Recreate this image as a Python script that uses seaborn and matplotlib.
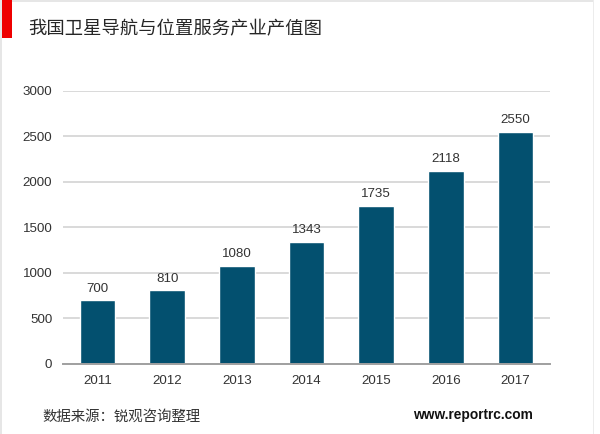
import matplotlib
matplotlib.use('Agg')
import matplotlib.pyplot as plt
from matplotlib.patches import Rectangle
import pandas as pd
import seaborn as sns

# Chart data
years = ['2011', '2012', '2013', '2014', '2015', '2016', '2017']
values = [700, 810, 1080, 1343, 1735, 2118, 2550]
y_ticks = [0, 500, 1000, 1500, 2000, 2500, 3000]

title = '我国卫星导航与位置服务产业产值图'
source = '数据来源：锐观咨询整理'
site = 'www.reportrc.com'

W, H = 600, 434

sns.set_theme(style='white')
plt.rcParams['font.family'] = ['Liberation Sans', 'Noto Sans CJK SC', 'DejaVu Sans']

df = pd.DataFrame({'year': years, 'value': values})

fig = plt.figure(figsize=(W / 100, H / 100), dpi=100)
ax = fig.add_axes([62.7 / W, 1 - 364 / H, (550.3 - 62.7) / W, (364 - 90.7) / H])

sns.barplot(data=df, x='year', y='value', color='#03506F', saturation=1,
            width=0.51, ax=ax, zorder=3)

ax.set_ylim(0, 3000)
ax.set_yticks(y_ticks)
ax.set_xlabel('')
ax.set_ylabel('')
ax.grid(axis='y', color='#D9D9D9', lw=1.4, zorder=0)
ax.set_axisbelow(True)
sns.despine(ax=ax, left=True)
ax.spines['bottom'].set_color('#A0A0A0')
ax.spines['bottom'].set_linewidth(1.4)
ax.spines['bottom'].set_zorder(4)
ax.tick_params(axis='both', length=0, labelsize=9.6, labelcolor='#333333')
ax.tick_params(axis='x', pad=8)
ax.tick_params(axis='y', pad=7.5)

ax.bar_label(ax.containers[0], fmt='%d', padding=4, fontsize=9.6, color='#333333')

# Frame and red marker of the slide
fig.add_artist(Rectangle((0, 0), 2 / W, 1, transform=fig.transFigure, color='#E6E6E6', lw=0))
fig.add_artist(Rectangle((0, 1 - 2 / H), 593 / W, 2 / H, transform=fig.transFigure, color='#E6E6E6', lw=0))
fig.add_artist(Rectangle((593 / W, 0), 1 / W, 1, transform=fig.transFigure, color='#ECECEC', lw=0))
fig.add_artist(Rectangle((2 / W, 1 - 38 / H), 10 / W, 38 / H, transform=fig.transFigure, color='#EE0000', lw=0))

fig.text(28 / W, 1 - 29 / H, title, fontsize=13.2, color='#262626', va='center', ha='left',
         family=['Noto Sans CJK SC', 'DejaVu Sans'])
fig.text(42 / W, 1 - 417 / H, source, fontsize=10.4, color='#333333', va='center', ha='left',
         family=['Noto Sans CJK SC', 'DejaVu Sans'])
fig.text(533 / W, 1 - 415 / H, site, fontsize=9.9, color='#111111', va='center', ha='right',
         fontweight='bold', family=['Liberation Sans', 'DejaVu Sans'])

fig.savefig('out.png', dpi=100)
